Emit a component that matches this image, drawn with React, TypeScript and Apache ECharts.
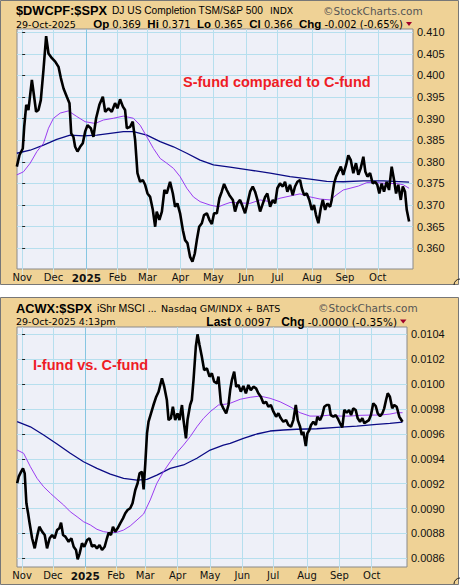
import React, { useEffect, useRef } from 'react';
import * as echarts from 'echarts';

// Month gridlines (trading-day index of first session of each month, Nov 2024 = 0)
const monthLabels = ['Nov', 'Dec', '2025', 'Feb', 'Mar', 'Apr', 'May', 'Jun', 'Jul', 'Aug', 'Sep', 'Oct'];
const monthStarts = [0, 20, 41, 61, 80, 101, 122, 143, 163, 185, 206, 227];

const sTicks = [0.36, 0.365, 0.37, 0.375, 0.38, 0.385, 0.39, 0.395, 0.4, 0.405, 0.41];
const iTicks = [0.0086, 0.0088, 0.009, 0.0092, 0.0094, 0.0096, 0.0098, 0.01, 0.0102, 0.0104];

// $DWCPF:$SPX  [trading day, ratio]
const sFundRatio: [number, number][] = [
  [-3.4, 0.3789], [-1.7, 0.3816], [0.4, 0.3831], [1.3, 0.3881], [2.6, 0.3932], [4.0, 0.392], [6.2, 0.399], [7.2, 0.3963],
  [8.9, 0.3916], [10.4, 0.392], [11.9, 0.3943], [13.6, 0.4013], [15.3, 0.4091], [16.8, 0.4051], [19.0, 0.404], [21.1, 0.4032],
  [23.2, 0.402], [24.7, 0.3994], [26.4, 0.397], [28.5, 0.3951], [30.2, 0.3936], [31.3, 0.3866], [32.7, 0.3858], [33.8, 0.3835],
  [35.3, 0.3824], [37.0, 0.3835], [38.7, 0.3843], [40.2, 0.387], [41.7, 0.3885], [43.8, 0.3878], [45.5, 0.3858], [47.2, 0.3901],
  [49.3, 0.3932], [51.5, 0.3951], [53.0, 0.3916], [55.1, 0.3924], [57.2, 0.3916], [59.3, 0.3936], [60.8, 0.3924], [62.5, 0.3945],
  [64.3, 0.3928], [65.7, 0.392], [66.8, 0.3878], [68.9, 0.3881], [70.6, 0.3893], [72.1, 0.3851], [73.6, 0.3774], [75.3, 0.3754],
  [77.0, 0.3758], [78.5, 0.3747], [80.0, 0.3727], [81.7, 0.3719], [83.4, 0.3689], [84.9, 0.365], [85.9, 0.3685], [87.6, 0.3666],
  [89.2, 0.3685], [90.8, 0.3735], [92.3, 0.3727], [94.4, 0.3754], [96.2, 0.3727], [97.6, 0.3696], [99.1, 0.3704], [100.8, 0.3681],
  [102.6, 0.3642], [104.0, 0.3619], [105.5, 0.3612], [107.2, 0.358], [108.7, 0.3569], [110.2, 0.3588], [111.5, 0.3619], [113.0, 0.365],
  [114.7, 0.3658], [116.1, 0.3677], [117.9, 0.3681], [119.5, 0.3666], [121.1, 0.3656], [122.5, 0.3681], [124.3, 0.3681], [125.9, 0.3716],
  [127.4, 0.3731], [128.9, 0.3749], [130.6, 0.3735], [132.3, 0.3723], [134.5, 0.3712], [135.9, 0.3685], [137.4, 0.3704], [139.1, 0.3712],
  [140.8, 0.3696], [142.3, 0.3681], [143.8, 0.3704], [145.5, 0.3731], [147.2, 0.3743], [148.7, 0.3731], [150.2, 0.3712], [151.9, 0.3685],
  [153.3, 0.37], [155.1, 0.3719], [156.5, 0.3727], [158.3, 0.3696], [160.0, 0.3712], [161.5, 0.3704], [162.9, 0.3739], [164.6, 0.375],
  [166.4, 0.3743], [167.8, 0.3754], [169.3, 0.3731], [171.0, 0.3747], [172.7, 0.3723], [174.2, 0.3743], [175.7, 0.3754], [177.4, 0.3758],
  [178.5, 0.3739], [180.0, 0.3723], [181.7, 0.3727], [183.3, 0.3712], [184.9, 0.3689], [186.3, 0.37], [187.6, 0.3677], [189.1, 0.3658],
  [190.6, 0.3692], [191.9, 0.3712], [193.4, 0.3689], [194.8, 0.3704], [196.6, 0.3696], [197.6, 0.3712], [199.1, 0.375], [200.4, 0.3766],
  [201.8, 0.3777], [203.4, 0.3789], [205.0, 0.377], [206.8, 0.3793], [208.2, 0.3815], [209.8, 0.3804], [211.4, 0.3774], [213.1, 0.3797],
  [214.6, 0.377], [216.1, 0.3785], [217.8, 0.3812], [219.1, 0.3777], [220.4, 0.3766], [222.1, 0.3774], [223.8, 0.375], [225.3, 0.3754],
  [226.7, 0.3747], [228.0, 0.3727], [229.5, 0.375], [231.0, 0.3731], [232.7, 0.3754], [234.2, 0.3735], [235.9, 0.3789], [237.4, 0.3758],
  [238.7, 0.3727], [240.1, 0.3747], [241.7, 0.3712], [243.0, 0.3743], [244.4, 0.3731], [245.5, 0.3689], [247.0, 0.3662],
];
const sFundMA50: [number, number][] = [
  [-3.4, 0.377], [0.8, 0.3777], [5.1, 0.3797], [9.4, 0.3824], [13.6, 0.3843], [16.8, 0.3878], [20.0, 0.3901], [24.3, 0.3913],
  [29.5, 0.3918], [34.9, 0.3905], [40.2, 0.3893], [46.6, 0.3889], [51.9, 0.3897], [58.3, 0.3901], [64.6, 0.3906], [71.0, 0.3901],
  [75.3, 0.3885], [79.6, 0.3858], [83.8, 0.3831], [88.1, 0.3808], [92.3, 0.3797], [96.6, 0.3785], [100.8, 0.3766], [105.1, 0.3739],
  [109.3, 0.3719], [113.6, 0.3708], [120.0, 0.37], [125.3, 0.3696], [129.5, 0.3702], [132.7, 0.3706], [139.1, 0.3705], [145.5, 0.3704],
  [151.9, 0.3712], [158.3, 0.3708], [164.6, 0.3716], [171.0, 0.3721], [177.4, 0.3726], [183.8, 0.3719], [190.2, 0.3714], [196.6, 0.3712],
  [200.4, 0.3723], [205.0, 0.3735], [209.3, 0.3739], [214.6, 0.3744], [220.0, 0.3752], [226.4, 0.3752], [232.7, 0.375], [239.1, 0.375],
  [243.3, 0.3747], [247.0, 0.3739],
];
const sFundMA200: [number, number][] = [
  [-3.4, 0.382], [5.1, 0.3827], [13.6, 0.3839], [22.1, 0.3852], [30.6, 0.3862], [39.1, 0.386], [47.7, 0.3862], [56.2, 0.3866],
  [64.6, 0.387], [71.0, 0.387], [79.6, 0.3862], [88.1, 0.3847], [96.6, 0.3835], [105.1, 0.382], [113.6, 0.3804], [122.1, 0.3793],
  [132.7, 0.3788], [145.5, 0.3781], [158.3, 0.3774], [171.0, 0.3766], [183.8, 0.376], [194.4, 0.3755], [205.0, 0.3754], [217.8, 0.3756],
  [230.6, 0.3756], [247.0, 0.3753],
];

// ACWX:$SPX  [trading day, ratio]
const iFundRatio: [number, number][] = [
  [-3.2, 0.009203], [-2.2, 0.009256], [-0.6, 0.009296], [0.6, 0.009323], [1.7, 0.009283], [2.8, 0.009042], [3.9, 0.008962], [4.9, 0.008881],
  [6.5, 0.008761], [8.2, 0.00868], [9.7, 0.008774], [11.2, 0.008854], [13.0, 0.008814], [14.7, 0.008787], [16.2, 0.00868], [17.9, 0.008761],
  [19.5, 0.008787], [21.1, 0.008761], [22.7, 0.008827], [24.2, 0.008841], [25.3, 0.008886], [26.6, 0.008787], [28.1, 0.008774], [30.2, 0.008733],
  [32.0, 0.008761], [33.5, 0.008693], [35.0, 0.008667], [36.1, 0.008592], [37.4, 0.00864], [38.9, 0.00872], [40.4, 0.008693], [42.2, 0.008747],
  [43.8, 0.008761], [45.4, 0.008693], [46.9, 0.008707], [48.6, 0.00868], [50.3, 0.008707], [51.9, 0.008667], [53.6, 0.008693], [55.1, 0.008761],
  [56.2, 0.008806], [57.7, 0.008787], [59.0, 0.008854], [60.5, 0.008814], [62.0, 0.008841], [63.7, 0.008881], [65.5, 0.008921], [67.0, 0.008962],
  [68.5, 0.008988], [70.2, 0.009002], [71.7, 0.009042], [73.5, 0.009149], [75.0, 0.009203], [76.3, 0.009283], [77.8, 0.009296], [78.9, 0.009154],
  [80.0, 0.009363], [81.1, 0.009604], [82.1, 0.009698], [83.7, 0.009765], [85.3, 0.009832], [87.1, 0.009899], [88.6, 0.009939], [90.8, 0.010046],
  [92.3, 0.009979], [94.0, 0.009872], [95.1, 0.009711], [96.6, 0.009725], [97.9, 0.009818], [99.4, 0.009711], [100.9, 0.009765], [102.2, 0.009711],
  [103.8, 0.009832], [104.8, 0.009711], [106.4, 0.009564], [107.4, 0.009711], [109.1, 0.009832], [110.2, 0.009872], [111.3, 0.010033], [112.8, 0.0103],
  [113.9, 0.0104], [115.2, 0.010314], [116.7, 0.01022], [118.2, 0.010113], [120.0, 0.010127], [121.7, 0.01006], [123.2, 0.010087], [124.7, 0.010019],
  [126.5, 0.010006], [127.5, 0.01006], [129.1, 0.009846], [130.7, 0.009805], [132.5, 0.009765], [134.0, 0.009832], [135.1, 0.009952], [136.2, 0.010033],
  [137.7, 0.0101], [139.0, 0.009979], [140.5, 0.009993], [142.0, 0.009939], [143.7, 0.009985], [145.3, 0.009926], [146.9, 0.009993], [148.5, 0.009952],
  [150.2, 0.009979], [151.9, 0.009966], [153.4, 0.009926], [155.0, 0.009899], [156.7, 0.009846], [158.4, 0.009858], [159.9, 0.009818], [161.5, 0.009832],
  [163.2, 0.009778], [164.9, 0.009738], [166.4, 0.009765], [168.0, 0.009725], [169.6, 0.009698], [171.4, 0.009711], [172.9, 0.009671], [174.6, 0.009657],
  [176.1, 0.009711], [177.7, 0.009832], [179.0, 0.009711], [180.5, 0.009657], [181.6, 0.009591], [182.6, 0.009617], [184.2, 0.009502], [185.2, 0.009604],
  [186.5, 0.009631], [187.6, 0.009671], [189.1, 0.009698], [190.7, 0.009671], [191.7, 0.009738], [193.5, 0.009711], [194.9, 0.009751], [196.2, 0.009818],
  [197.8, 0.009832], [199.3, 0.009832], [200.4, 0.009751], [202.1, 0.009738], [203.6, 0.009751], [204.9, 0.009725], [206.4, 0.009685], [207.9, 0.009653],
  [209.2, 0.009792], [210.8, 0.00977], [212.3, 0.009792], [213.6, 0.009751], [215.0, 0.009805], [216.6, 0.009792], [217.9, 0.009725], [219.4, 0.009698],
  [220.9, 0.009725], [222.2, 0.009685], [223.7, 0.009698], [225.2, 0.009711], [226.5, 0.009751], [228.0, 0.009846], [229.6, 0.009824], [230.9, 0.009765],
  [232.4, 0.009743], [233.9, 0.009765], [235.1, 0.009805], [236.3, 0.009872], [237.4, 0.009926], [238.8, 0.009899], [240.3, 0.009805], [241.6, 0.009832],
  [243.2, 0.009818], [244.9, 0.009738], [247.0, 0.009698],
];
const iFundMA50: [number, number][] = [
  [-3.2, 0.00947], [1.0, 0.009444], [5.4, 0.009336], [9.7, 0.009243], [14.0, 0.009175], [18.4, 0.009122], [22.7, 0.009074], [27.0, 0.009028],
  [31.3, 0.008974], [35.7, 0.008934], [39.9, 0.008894], [44.3, 0.008868], [48.6, 0.008833], [52.9, 0.008814], [57.3, 0.008806], [61.6, 0.008809],
  [65.9, 0.008827], [70.2, 0.00886], [74.6, 0.008908], [78.9, 0.008956], [83.2, 0.009069], [87.5, 0.009203], [91.8, 0.009296], [96.2, 0.009376],
  [100.5, 0.009449], [104.8, 0.00951], [109.1, 0.009577], [113.5, 0.009657], [117.8, 0.009725], [122.1, 0.009778], [127.5, 0.009832], [132.9, 0.00984],
  [135.1, 0.009846], [141.6, 0.009878], [148.1, 0.009894], [154.5, 0.009904], [161.0, 0.009886], [167.5, 0.009858], [174.0, 0.009818], [180.5, 0.00977],
  [186.9, 0.009743], [193.5, 0.009743], [199.9, 0.009751], [206.4, 0.009743], [212.9, 0.009743], [219.4, 0.009749], [225.9, 0.009751], [232.4, 0.009751],
  [238.8, 0.009759], [243.2, 0.00977], [247.0, 0.00977],
];
const iFundMA200: [number, number][] = [
  [-3.2, 0.009698], [5.4, 0.009657], [14.0, 0.009591], [22.7, 0.009519], [31.3, 0.009444], [39.9, 0.009376], [48.6, 0.009323], [57.3, 0.009277],
  [65.9, 0.009243], [74.6, 0.009229], [81.1, 0.009235], [87.5, 0.009269], [96.2, 0.009323], [104.8, 0.00935], [113.5, 0.009404], [122.1, 0.00947],
  [130.7, 0.00951], [135.1, 0.009524], [143.7, 0.009564], [152.4, 0.009599], [161.0, 0.009623], [169.6, 0.009631], [178.3, 0.009637], [191.3, 0.009641],
  [204.3, 0.009653], [217.3, 0.009663], [230.2, 0.009677], [238.8, 0.009685], [247.0, 0.009695],
];

const TAN = '#EFD296';
const GRID_BLUE = '#B6DFEE';
const YEAR_BLUE = '#86C6E2';
const SANS = 'Liberation Sans';
const VERD = 'DejaVu Sans';

function makeXAxis(gridIndex: number, max: number) {
  const colors = monthLabels.map((m) => (m === '2025' ? YEAR_BLUE : GRID_BLUE));
  return {
    type: 'value',
    gridIndex,
    min: -3.3,
    max,
    axisLine: { show: false },
    axisTick: { show: true, customValues: monthStarts, length: 12, lineStyle: { color: '#D9E6E0', width: 1 } },
    axisLabel: {
      customValues: monthStarts,
      margin: 3,
      fontFamily: VERD,
      fontSize: 10,
      color: '#111',
      formatter: (v: number) => {
        const t = monthLabels[monthStarts.indexOf(Math.round(v))] || '';
        return t === '2025' ? '{y|2025}' : t;
      },
      rich: { y: { fontFamily: VERD, fontSize: 10.5, fontWeight: 'bold', color: '#111' } },
    },
    splitLine: { show: true, lineStyle: { color: colors, width: 1 } },
  };
}

function makeYAxis(gridIndex: number, min: number, max: number, ticks: number[], digits: number) {
  return {
    type: 'value',
    gridIndex,
    position: 'right',
    min,
    max,
    axisLine: { show: false },
    axisTick: { show: true, customValues: ticks, length: 3, lineStyle: { color: '#222' } },
    axisLabel: {
      customValues: ticks,
      margin: 4,
      fontFamily: SANS,
      fontSize: 11,
      color: '#111',
      formatter: (v: number) => v.toFixed(digits),
    },
    splitLine: { show: true, lineStyle: { color: GRID_BLUE, width: 1 } },
  };
}

function lineSeries(idx: number, data: [number, number][], color: string, width: number, z: number) {
  return {
    type: 'line',
    xAxisIndex: idx,
    yAxisIndex: idx,
    data,
    showSymbol: false,
    smooth: false,
    lineStyle: { color, width },
    z,
  };
}

function txt(x: number, y: number, text: string, font: string, fill = '#000', align = 'left', rich?: any) {
  return {
    type: 'text',
    x,
    y,
    z: 100,
    style: { text, font, fill, align, verticalAlign: 'middle', rich },
  };
}

export default function App() {
  const ref = useRef<HTMLDivElement>(null);
  useEffect(() => {
    document.body.style.margin = '0';
    const chart = echarts.init(ref.current!, null, { renderer: 'svg' });
    const richHdr = {
      b: { fontFamily: SANS, fontSize: 11.5, fontWeight: 'bold', fill: '#000', color: '#000' },
      n: { fontFamily: VERD, fontSize: 10, fill: '#000', color: '#000' },
    };
    const option: any = {
      animation: false,
      backgroundColor: '#ffffff',
      grid: [
        { left: 17, top: 29, width: 396, height: 240, show: true, backgroundColor: '#EEF0F8', borderColor: '#8a8a8a', borderWidth: 1 },
        { left: 17, top: 327, width: 390, height: 240, show: true, backgroundColor: '#EEF0F8', borderColor: '#8a8a8a', borderWidth: 1 },
      ],
      xAxis: [makeXAxis(0, 249.5), makeXAxis(1, 249.9)],
      yAxis: [
        makeYAxis(0, 0.35521, 0.41076, sTicks, 3),
        makeYAxis(1, 0.00853, 0.010459, iTicks, 4),
      ],
      series: [
        lineSeries(0, sFundMA200, '#0B0B85', 1.3, 2),
        lineSeries(0, sFundMA50, '#9A3CF0', 1, 3),
        lineSeries(0, sFundRatio, '#000000', 2.6, 4),
        lineSeries(1, iFundMA200, '#0B0B85', 1.3, 2),
        lineSeries(1, iFundMA50, '#9A3CF0', 1, 3),
        lineSeries(1, iFundRatio, '#000000', 2.6, 4),
      ],
      graphic: [
        { type: 'rect', z: -10, shape: { x: 0.5, y: 0.5, width: 458, height: 284 }, style: { fill: TAN, stroke: '#777', lineWidth: 1 } },
        { type: 'rect', z: -10, shape: { x: 0.5, y: 297.5, width: 458, height: 287 }, style: { fill: TAN, stroke: '#777', lineWidth: 1 } },
        { type: 'arc', z: 100, shape: { cx: 460, cy: 285, r: 6, startAngle: Math.PI, endAngle: Math.PI * 1.5 }, style: { stroke: '#222', fill: 'none', lineWidth: 1 } },
        { type: 'arc', z: 100, shape: { cx: 460, cy: 584, r: 6, startAngle: Math.PI, endAngle: Math.PI * 1.5 }, style: { stroke: '#222', fill: 'none', lineWidth: 1 } },

        txt(16, 10.5, '$DWCPF:$SPX', `bold 12.8px "${SANS}"`),
        txt(112, 10.5, 'DJ US Completion TSM/S&P 500', `10.2px "${SANS}"`),
        txt(270, 10.5, 'INDX', `9.3px "${VERD}"`),
        txt(323, 10.5, '©StockCharts.com', `10.5px "${VERD}"`, '#555'),
        txt(16, 24, '29-Oct-2025', `9.5px "${VERD}"`),
        txt(403, 24, '{b|Op} {n|0.369}  {b|Hi} {n|0.371}  {b|Lo} {n|0.365}  {b|Cl} {n|0.366}  {b|Chg} {n|-0.002 (-0.65%)}', `10px "${VERD}"`, '#000', 'right', richHdr),
        { type: 'polygon', z: 100, shape: { points: [[406, 22], [412, 22], [409, 26]] }, style: { fill: '#A0002A' } },

        txt(16, 308, 'ACWX:$SPX', `bold 12.8px "${SANS}"`),
        txt(97, 308, 'iShr MSCI ...', `10.5px "${SANS}"`),
        txt(161, 308, 'Nasdaq GM/INDX + BATS', `9.5px "${VERD}"`),
        txt(318, 308, '©StockCharts.com', `10.5px "${VERD}"`, '#555'),
        txt(16, 321.5, '29-Oct-2025 4:13pm', `9.5px "${VERD}"`),
        txt(397, 321.5, '{b|Last} {n|0.0097}   {b|Chg} {n|-0.0000 (-0.35%)}', `10.5px "${VERD}"`, '#000', 'right', {
          b: { fontFamily: SANS, fontSize: 12, fontWeight: 'bold', fill: '#000', color: '#000' },
          n: { fontFamily: VERD, fontSize: 10.5, fill: '#000', color: '#000' },
        }),
        { type: 'polygon', z: 100, shape: { points: [[400, 319.5], [406.5, 319.5], [403.2, 323.5]] }, style: { fill: '#A0002A' } },

        txt(183, 82, 'S-fund compared to C-fund', `bold 14.5px "${SANS}"`, '#EE1C25'),
        txt(33, 365, 'I-fund vs. C-fund', `bold 14.5px "${SANS}"`, '#EE1C25'),
      ],
    };
    chart.setOption(option);
    return () => chart.dispose();
  }, []);
  return <div ref={ref} style={{ width: 461, height: 585 }} />;
}
